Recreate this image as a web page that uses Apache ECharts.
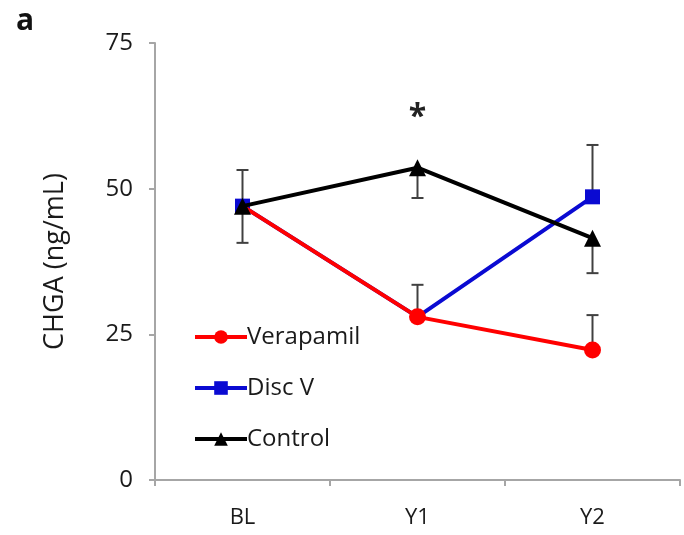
<!DOCTYPE html>
<html><head><meta charset="utf-8">
<script src="https://cdn.jsdelivr.net/npm/echarts@6/dist/echarts.min.js"></script>
<style>html,body{margin:0;padding:0;background:#fff}#c{width:684px;height:535px}</style>
</head><body><div id="c"></div>
<script>
const categories = ['BL', 'Y1', 'Y2'];
const seriesNames = ['Verapamil', 'Disc V', 'Control'];
const verapamil = [47, 28, 22.3];
const discV = [47, 28, 48.6];
const control = [47, 53.6, 41.5];
// error bar ends (null = none)
const verapamilErrHigh = [null, 33.5, 28.3];
const verapamilErrLow = [null, null, null];
const discVErrHigh = [null, null, 57.5];
const discVErrLow = [null, null, null];
const controlErrHigh = [53.2, null, null];
const controlErrLow = [40.7, 48.4, 35.5];
const yTicks = [0, 25, 50, 75];
const sigMark = '*';

const font = '"Open Sans", "DejaVu Sans", sans-serif';
const txt = '#1a1a1a';

function errData(vals, hi, lo) {
  const out = [];
  vals.forEach((v, i) => {
    if (hi[i] != null) out.push([i, v, hi[i]]);
    if (lo[i] != null) out.push([i, v, lo[i]]);
  });
  return out;
}
const errAll = [].concat(
  errData(verapamil, verapamilErrHigh, verapamilErrLow),
  errData(discV, discVErrHigh, discVErrLow),
  errData(control, controlErrHigh, controlErrLow)
);

const chart = echarts.init(document.getElementById('c'), null, {renderer: 'canvas'});
chart.setOption({
  animation: false,
  backgroundColor: '#fff',
  grid: {left: 155, right: 4, top: 43, bottom: 55, containLabel: false},
  xAxis: {
    type: 'category', data: categories, boundaryGap: true,
    axisLine: {lineStyle: {color: '#a6a6a6', width: 2}},
    axisTick: {show: true, length: 6, lineStyle: {color: '#a6a6a6', width: 2}},
    axisLabel: {color: txt, fontFamily: font, fontSize: 22, margin: 27}
  },
  yAxis: {
    type: 'value', min: yTicks[0], max: yTicks[yTicks.length - 1], interval: 25,
    name: 'CHGA (ng/mL)', nameLocation: 'middle', nameRotate: 90, nameGap: 86,
    nameTextStyle: {color: txt, fontFamily: font, fontSize: 27},
    axisLine: {show: true, lineStyle: {color: '#a6a6a6', width: 2}},
    axisTick: {show: true, length: 6, lineStyle: {color: '#a6a6a6', width: 2}},
    splitLine: {show: false},
    axisLabel: {color: txt, fontFamily: font, fontSize: 24, margin: 22}
  },
  legend: {
    data: seriesNames, orient: 'vertical', left: 188, top: 320,
    itemWidth: 52, itemHeight: 17, itemGap: 27,
    lineStyle: {width: 4},
    textStyle: {color: txt, fontFamily: font, fontSize: 24, padding: [0, 0, 0, -5]}
  },
  graphic: [{
    type: 'text', left: 16, top: 6,
    style: {text: 'a', font: 'bold 30px ' + font, fill: '#111'}
  }],
  series: [
    {
      type: 'custom', name: 'err', z: 1, silent: true,
      data: errAll,
      renderItem: function (params, api) {
        const p1 = api.coord([api.value(0), api.value(1)]);
        const p2 = api.coord([api.value(0), api.value(2)]);
        const w = 6;
        return {
          type: 'group', children: [
            {type: 'line', shape: {x1: p1[0], y1: p1[1], x2: p2[0], y2: p2[1]}, style: {stroke: '#404040', lineWidth: 2}},
            {type: 'line', shape: {x1: p2[0] - w, y1: p2[1], x2: p2[0] + w, y2: p2[1]}, style: {stroke: '#404040', lineWidth: 2}}
          ]
        };
      }
    },
    {
      name: 'Disc V', type: 'line', z: 3,
      data: [discV[0], {value: discV[1], symbol: 'none'}, discV[2]],
      symbol: 'rect', symbolSize: 15,
      lineStyle: {color: '#0a0ad2', width: 4},
      itemStyle: {color: '#0a0ad2'}
    },
    {
      name: 'Verapamil', type: 'line', z: 4,
      data: [{value: verapamil[0], symbol: 'none'}, verapamil[1], verapamil[2]],
      symbol: 'circle', symbolSize: 17,
      lineStyle: {color: '#ff0000', width: 4},
      itemStyle: {color: '#ff0000'}
    },
    {
      name: 'Control', type: 'line', z: 5,
      data: [control[0], {value: control[1], label: {show: true, formatter: sigMark, position: 'top', distance: 25, fontSize: 32, fontWeight: 'bold', color: '#222', fontFamily: font}}, control[2]],
      symbol: 'triangle', symbolSize: 17,
      lineStyle: {color: '#000', width: 4},
      itemStyle: {color: '#000'}
    }
  ]
});
</script></body></html>
